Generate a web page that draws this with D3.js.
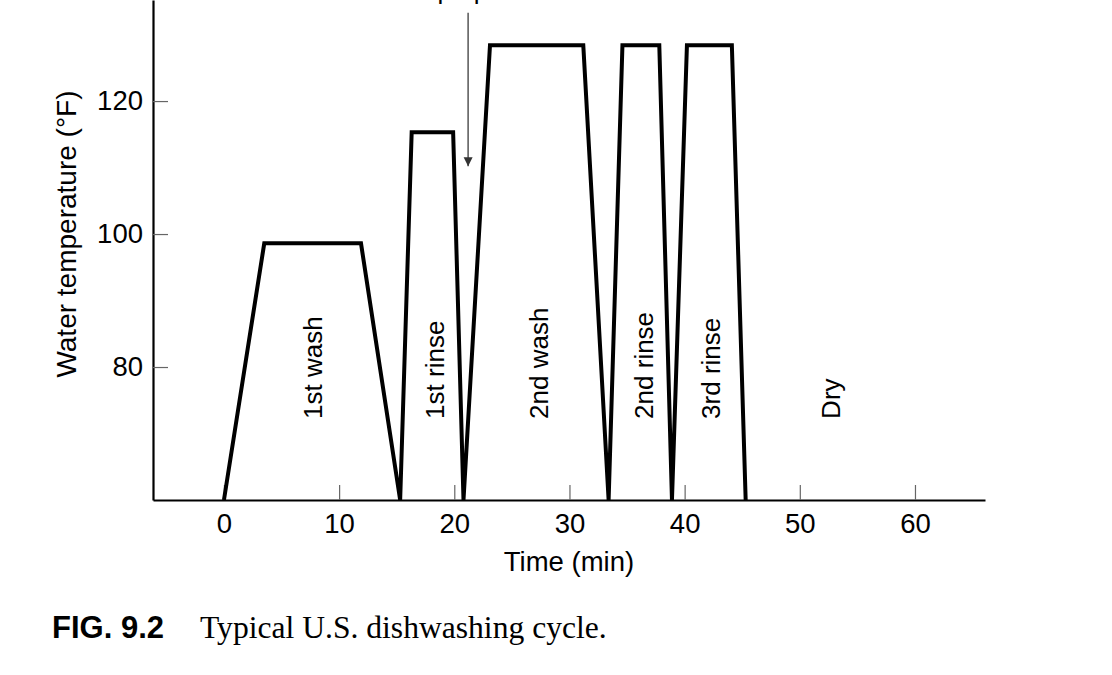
<!DOCTYPE html>
<html>
<head>
<meta charset="utf-8">
<script src="https://cdn.jsdelivr.net/npm/d3@7"></script>
<style>
  body { margin: 0; background: #fff; }
  svg { display: block; font-family: "Liberation Sans", Arial, sans-serif; }
</style>
</head>
<body>
<div id="chart"></div>
<script>
// cycle profile: time (min) and water temperature (°F) at each corner of the trace
const time = [0, 3.5, 11.9, 15.3, 16.3, 19.9, 20.8, 23.1, 31.2, 33.4, 34.6, 37.8, 38.9, 40.2, 44.1, 45.3];
const temp = [60, 98.6, 98.6, 60, 115.3, 115.3, 60, 128.4, 128.4, 60, 128.4, 128.4, 60, 128.4, 128.4, 60];

// phase labels, centred at these times
const phaseNames = ['1st wash', '1st rinse', '2nd wash', '2nd rinse', '3rd rinse', 'Dry'];
const phaseTimes = [7.7, 18.3, 27.3, 36.4, 42.3, 52.7];
const phaseLabelTemp = 72.2;

const xTicks = [0, 10, 20, 30, 40, 50, 60];
const yTicks = [80, 100, 120];

// detergent arrow (its label is mostly above the top edge, as in the figure)
const arrowTime = 21.2;
const arrowTemp = [133.3, 110.2];
const arrowLabel = 'cup opens';

const width = 1112;
const height = 675;

const svg = d3.select('#chart')
  .append('svg')
  .attr('width', width)
  .attr('height', height);

const x = d3.scaleLinear().domain([-6.16, 66.08]).range([153, 985]);
const y = d3.scaleLinear().domain([60, 135.2]).range([500, 0]);

// axes: ticks point inward
const xAxis = svg.append('g')
  .attr('transform', `translate(0,${y(60)})`)
  .call(d3.axisBottom(x).tickValues(xTicks).tickSizeInner(-15).tickSizeOuter(0).tickPadding(13));

const yAxis = svg.append('g')
  .attr('transform', `translate(${x.range()[0]},0)`)
  .call(d3.axisLeft(y).tickValues(yTicks).tickSizeInner(-15).tickSizeOuter(0).tickPadding(10));

[xAxis, yAxis].forEach(g => {
  g.select('.domain').attr('stroke', '#000').attr('stroke-width', 2.2);
  g.selectAll('.tick line').attr('stroke', '#666').attr('stroke-width', 1.2);
  g.selectAll('.tick text')
    .attr('fill', '#000')
    .style('font-size', '27.5px')
    .style('font-family', '"Liberation Sans", Arial, sans-serif');
});

// axis titles
svg.append('text')
  .attr('x', (x(-6.16) + x(66.08)) / 2)
  .attr('y', 571)
  .attr('text-anchor', 'middle')
  .style('font-size', '27.5px')
  .text('Time (min)');

svg.append('text')
  .attr('transform', `translate(76,${y(100)}) rotate(-90)`)
  .attr('text-anchor', 'middle')
  .style('font-size', '28px')
  .text('Water temperature (°F)');

// temperature trace
const points = time.map((t, i) => [t, temp[i]]);
svg.append('path')
  .datum(points)
  .attr('fill', 'none')
  .attr('stroke', '#000')
  .attr('stroke-width', 4)
  .attr('stroke-linejoin', 'miter')
  .attr('d', d3.line().x(d => x(d[0])).y(d => y(d[1])));

// phase labels
svg.append('g')
  .selectAll('text')
  .data(phaseNames)
  .enter()
  .append('text')
  .attr('transform', (d, i) => `translate(${x(phaseTimes[i])},${y(phaseLabelTemp)}) rotate(-90)`)
  .attr('dy', '0.36em')
  .style('font-size', '26px')
  .text(d => d);

// arrow
svg.append('defs').append('marker')
  .attr('id', 'head')
  .attr('viewBox', '0 0 10 10')
  .attr('refX', 10)
  .attr('refY', 5)
  .attr('markerWidth', 9)
  .attr('markerHeight', 13)
  .attr('markerUnits', 'userSpaceOnUse')
  .attr('orient', 'auto')
  .append('path')
  .attr('d', 'M0,0L10,5L0,10Z')
  .attr('fill', '#333');

svg.append('line')
  .attr('x1', x(arrowTime))
  .attr('x2', x(arrowTime))
  .attr('y1', y(arrowTemp[0]))
  .attr('y2', y(arrowTemp[1]))
  .attr('stroke', '#555')
  .attr('stroke-width', 1.5)
  .attr('marker-end', 'url(#head)');

svg.append('text')
  .attr('x', x(arrowTime) + 2)
  .attr('y', -1.5)
  .attr('text-anchor', 'middle')
  .style('font-size', '26px')
  .text(arrowLabel);

// caption
const caption = svg.append('text')
  .attr('x', 52)
  .attr('y', 638);
caption.append('tspan')
  .style('font-weight', 'bold')
  .style('font-size', '31px')
  .text('FIG. 9.2');
caption.append('tspan')
  .attr('x', 200)
  .style('font-family', '"Liberation Serif", "Times New Roman", serif')
  .style('font-size', '31.6px')
  .text('Typical U.S. dishwashing cycle.');
</script>
</body>
</html>
